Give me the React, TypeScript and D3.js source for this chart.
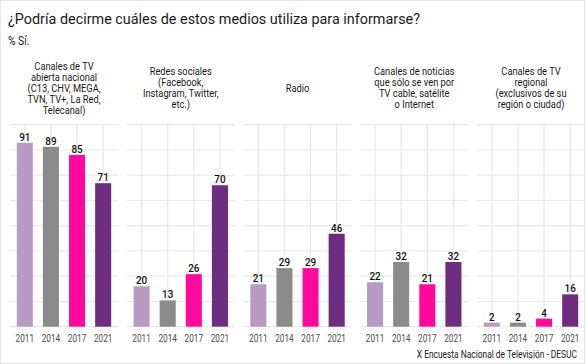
import React from "react";
import * as d3 from "d3";

const years = ["2011", "2014", "2017", "2021"];
const yearColors = ["#b79bc2", "#8b8b8b", "#ff0a9c", "#6e2d7e"];
const panelTitles = [
  ["Canales de TV", "abierta nacional", "(C13, CHV,  MEGA,", "TVN, TV+, La Red,", "Telecanal)"],
  ["Redes sociales", "(Facebook,", "Instagram, Twitter,", "etc.)"],
  ["Radio"],
  ["Canales de noticias", "que sólo se ven por", "TV cable, satélite", "o Internet"],
  ["Canales de TV", "regional", "(exclusivos de su", "región o ciudad)"],
];
const panelValues = [
  [91, 89, 85, 71],
  [20, 13, 26, 70],
  [21, 29, 29, 46],
  [22, 32, 21, 32],
  [2, 2, 4, 16],
];
const gridBreaks = [0, 12.5, 25, 37.5, 50, 62.5, 75, 87.5, 100];

const W = 585;
const H = 364;
const FONT = "Roboto, 'Noto Sans', sans-serif";
const SX = 0.86;

function CText({ x, y, children, size = 10, fill = "#222", weight = 400, anchor = "middle", sx = SX }: any) {
  return (
    <text
      transform={`translate(${x},${y}) scale(${sx},1)`}
      fontFamily={FONT}
      fontSize={size}
      fontWeight={weight}
      fill={fill}
      textAnchor={anchor}
    >
      {children}
    </text>
  );
}

export default function App() {
  const panelX = d3.scaleBand<number>().domain(d3.range(5)).range([10, 585]).paddingInner(0.075).paddingOuter(0);
  const pw = panelX.bandwidth();
  const y = d3.scaleLinear().domain([0, 100]).range([326.7, 124.6]);
  const stripCenter = 88;
  const lineH = 10.9;

  return (
    <svg width={W} height={H} style={{ position: "absolute", left: 0, top: 0, background: "#fff" }}>
      <rect x={0.5} y={0.5} width={W - 1} height={H - 1} fill="none" stroke="#e6e6e6" />
      <text x={8} y={24} fontFamily={FONT} fontSize={15.5} fill="#1a1a1a" textLength={412} lengthAdjust="spacingAndGlyphs">
        ¿Podría decirme cuáles de estos medios utiliza para informarse?
      </text>
      <CText x={8} y={45} size={12} anchor="start" fill="#1a1a1a">% Sí.</CText>
      {panelValues.map((vals, pi) => {
        const x0 = panelX(pi)!;
        const x = d3.scaleBand<string>().domain(years).range([x0, x0 + pw]).paddingInner(0.385).paddingOuter(0.26);
        const bw = x.bandwidth();
        const lines = panelTitles[pi];
        const firstBase = stripCenter - ((lines.length - 1) * lineH) / 2 + 3.8;
        return (
          <g key={pi}>
            {gridBreaks.map((b) => (
              <line key={b} x1={x0} x2={x0 + pw} y1={y(b)} y2={y(b)} stroke="#e9e9e9" strokeWidth={b % 25 === 0 ? 1.3 : 1} />
            ))}
            {years.map((yr) => (
              <line key={yr} x1={x(yr)! + bw / 2} x2={x(yr)! + bw / 2} y1={y(100) - 1} y2={y(0)} stroke="#e9e9e9" strokeWidth={1.3} />
            ))}
            {lines.map((l, li) => (
              <CText key={li} x={x0 + pw / 2} y={firstBase + li * lineH} size={10.8} fill="#1a1a1a">{l}</CText>
            ))}
            {vals.map((v, i) => (
              <rect key={i} x={x(years[i])!} y={y(v)} width={bw} height={y(0) - y(v)} fill={yearColors[i]} />
            ))}
            {vals.map((v, i) => (
              <CText key={"l" + i} x={x(years[i])! + bw / 2} y={y(v) - 2} size={11.5} weight={500} fill="#111">{v}</CText>
            ))}
            {years.map((yr) => (
              <CText key={"y" + yr} x={x(yr)! + bw / 2} y={342} size={10.3} fill="#4d4d4d" sx={0.8}>{yr}</CText>
            ))}
          </g>
        );
      })}
      <CText x={577} y={357.5} size={10.5} anchor="end" fill="#1a1a1a" sx={0.8}>
        X Encuesta Nacional de Televisión - DESUC
      </CText>
    </svg>
  );
}
